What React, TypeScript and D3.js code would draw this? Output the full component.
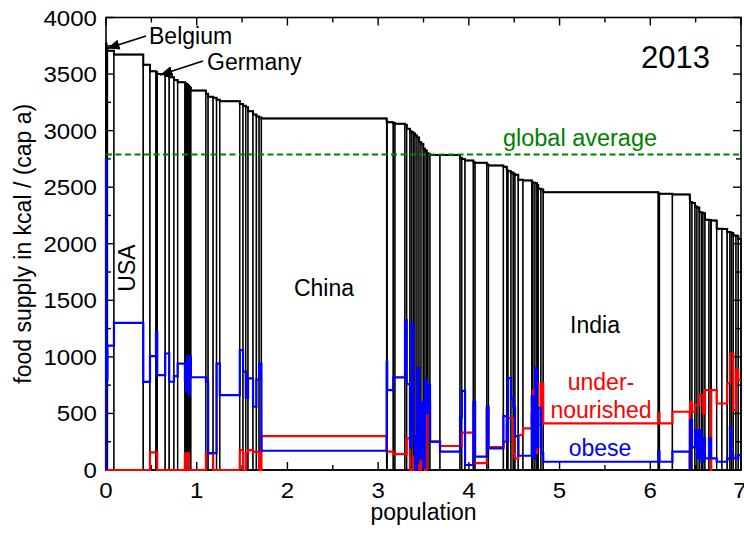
import React from 'react';
import * as d3 from 'd3';

// population per country (billions), sorted by food supply
const pop = [
  0.005, 0.011, 0.072, 0.323, 0.074, 0.066, 0.014, 0.088, 0.044, 0.052, 0.041, 0.080, 0.012, 0.013, 0.010, 0.009,
  0.011, 0.011, 0.165, 0.025, 0.055, 0.038, 0.036, 0.220, 0.036, 0.030, 0.025, 0.055, 0.037, 0.030, 0.025,
  1.381,
  0.006, 0.067, 0.019, 0.110, 0.019, 0.036, 0.017, 0.020, 0.019, 0.022, 0.022, 0.022, 0.025, 0.019, 0.019, 0.014,
  0.022, 0.110, 0.221, 0.019, 0.036, 0.092, 0.019, 0.129, 0.018, 0.165, 0.037, 0.014, 0.033, 0.025, 0.019, 0.036,
  0.052, 0.096, 0.014, 0.022, 0.022, 0.014, 0.030, 0.025,
  1.268,
  0.013, 0.143, 0.191, 0.003, 0.022, 0.033, 0.022, 0.025, 0.024, 0.017, 0.022, 0.044, 0.022, 0.003, 0.060, 0.058,
  0.058, 0.030, 0.017, 0.020, 0.030, 0.025, 0.030,
];
// food supply in kcal / (cap day)
const kcal = [
  3770, 3733, 3706, 3672, 3583, 3524, 3515, 3501, 3483, 3471, 3448, 3427, 3418, 3413, 3405, 3398,
  3385, 3378, 3354, 3325, 3300, 3290, 3272, 3260, 3236, 3220, 3207, 3171, 3142, 3125, 3115,
  3108,
  3080, 3074, 3068, 3060, 3052, 3016, 2995, 2986, 2975, 2957, 2940, 2900, 2883, 2840, 2824, 2800,
  2795, 2785, 2785, 2760, 2750, 2736, 2720, 2716, 2700, 2692, 2680, 2648, 2640, 2630, 2618, 2610,
  2566, 2560, 2545, 2540, 2535, 2520, 2486, 2480,
  2455,
  2445, 2442, 2436, 2400, 2368, 2360, 2330, 2320, 2280, 2275, 2270, 2213, 2210, 2208, 2205, 2133,
  2130, 2103, 2100, 2095, 2074, 2070, 2045,
];
const obese = [
  2750, 800, 1100, 1300, 779, 1006, 1220, 838, 1030, 780, 830, 940, 790, 700, 1010, 880,
  660, 1000, 820, 780, 150, 150, 940, 662, 1060, 870, 640, 810, 560, 800, 940,
  170,
  956, 706, 818, 818, 1324, 760, 200, 1297, 300, 0, 900, 100, 600, 20, 800, 503,
  750, 250, 162, 470, 700, 44, 600, 118, 560, 191, 476, 250, 812, 635, 559, 300,
  126, 126, 650, 100, 900, 200, 550, 150,
  73,
  162, 73, 162, 0, 441, 200, 353, 103, 353, 73, 280, 103, 280, 103, 103, 73,
  73, 100, 382, 132, 103, 103, 132,
];
const under = [
  0, 0, 0, 0, 0, 156, 156, 0, 0, 0, 0, 0, 147, 147, 0, 147,
  0, 0, 0, 147, 147, 0, 0, 0, 176, 0, 150, 176, 160, 160, 0,
  300,
  162, 162, 141, 141, 141, 280, 0, 0, 120, 0, 50, 0, 400, 200, 0, 594,
  600, 250, 212, 212, 330, 330, 60, 60, 547, 203, 250, 400, 459, 459, 140, 100,
  309, 368, 500, 706, 150, 765, 400, 765,
  412,
  500, 412, 515, 0, 603, 515, 574, 574, 662, 662, 500, 706, 706, 0, 706, 588,
  588, 765, 1030, 1030, 530, 883, 795,
];
const globalAverage = 2790;
const xTicks = [0, 1, 2, 3, 4, 5, 6, 7];
const xMinor = [0.5, 1.5, 2.5, 3.5, 4.5, 5.5, 6.5];
const yTicks = [0, 500, 1000, 1500, 2000, 2500, 3000, 3500, 4000];
const yMinor = [250, 750, 1250, 1750, 2250, 2750, 3250, 3750];

const FONT = "'Liberation Sans', Arial, Helvetica, sans-serif";

export default function App() {
  const W = 744, H = 533;
  const L = 106, R = 741, T = 17.5, B = 470;
  const x = d3.scaleLinear().domain([0, 7]).range([L, R]);
  const y = d3.scaleLinear().domain([0, 4000]).range([B, T]);
  const ends = d3.cumsum(pop);
  const starts = pop.map((_, i) => (i === 0 ? 0 : ends[i - 1]));
  const total = ends[ends.length - 1];

  const step = (vals: number[]) => {
    const pts: [number, number][] = [[0, 0]];
    vals.forEach((v, i) => pts.push([starts[i], v]));
    pts.push([total, vals[vals.length - 1]]);
    return d3
      .line<[number, number]>()
      .x((d) => x(d[0]))
      .y((d) => y(d[1]))
      .curve(d3.curveStepAfter)(pts) as string;
  };

  const MAJ = 8, MIN = 5;
  const digitW = 13.4; // stretched digit advance for tick labels

  return (
    <svg width={W} height={H} style={{ position: 'absolute', left: 0, top: 0, background: '#fff' }} fontFamily={FONT}>
      <rect x={0} y={0} width={W} height={H} fill="#fff" />
      {/* bars */}
      <g>
        {pop.map((p, i) => (
          <rect
            key={i}
            x={x(starts[i])}
            y={y(kcal[i])}
            width={x(ends[i]) - x(starts[i])}
            height={y(0) - y(kcal[i])}
            fill="#fff"
            stroke="#000"
            strokeWidth={1.4}
          />
        ))}
      </g>
      <path d={step(kcal)} fill="none" stroke="#000" strokeWidth={2} />
      {/* frame & ticks */}
      <rect x={L} y={T} width={R - L} height={B - T} fill="none" stroke="#000" strokeWidth={1.6} />
      <g stroke="#000" strokeWidth={1.4}>
        {xTicks.map((t) => (
          <g key={'xt' + t}>
            <line x1={x(t)} x2={x(t)} y1={B} y2={B - MAJ} />
            <line x1={x(t)} x2={x(t)} y1={T} y2={T + MAJ} />
          </g>
        ))}
        {xMinor.map((t) => (
          <g key={'xm' + t}>
            <line x1={x(t)} x2={x(t)} y1={B} y2={B - MIN} />
            <line x1={x(t)} x2={x(t)} y1={T} y2={T + MIN} />
          </g>
        ))}
        {yTicks.map((t) => (
          <g key={'yt' + t}>
            <line x1={L} x2={L + MAJ} y1={y(t)} y2={y(t)} />
            <line x1={R} x2={R - MAJ} y1={y(t)} y2={y(t)} />
          </g>
        ))}
        {yMinor.map((t) => (
          <g key={'ym' + t}>
            <line x1={L} x2={L + MIN} y1={y(t)} y2={y(t)} />
            <line x1={R} x2={R - MIN} y1={y(t)} y2={y(t)} />
          </g>
        ))}
      </g>
      {/* series */}
      <path d={step(under)} fill="none" stroke="#ff0000" strokeWidth={2.2} />
      <path d={step(obese)} fill="none" stroke="#0000ff" strokeWidth={2.2} />
      <line x1={L} x2={R} y1={y(globalAverage)} y2={y(globalAverage)} stroke="#008000" strokeWidth={2} strokeDasharray="6,3.5" />
      {/* tick labels */}
      <g fontSize={22} fill="#000">
        {xTicks.map((t) => (
          <text key={'xl' + t} x={t === 7 ? x(t) - 1 : x(t)} y={498} textAnchor="middle"
            textLength={String(t).length * digitW} lengthAdjust="spacingAndGlyphs">{t}</text>
        ))}
        {yTicks.map((t) => (
          <text key={'yl' + t} x={97} y={y(t) + 8} textAnchor="end"
            textLength={String(t).length * digitW} lengthAdjust="spacingAndGlyphs">{t}</text>
        ))}
      </g>
      <text x={(L + R) / 2} y={520} fontSize={23} textAnchor="middle">population</text>
      <text transform={`translate(31,${(T + B) / 2}) rotate(-90)`} fontSize={23} textAnchor="middle">food supply in kcal / (cap a)</text>
      {/* annotations */}
      <text x={641} y={68} fontSize={31}>2013</text>
      <text x={580} y={146} fontSize={23.5} fill="#008000" textAnchor="middle">global average</text>
      <text transform="translate(135,268) rotate(-90)" fontSize={23} textAnchor="middle">USA</text>
      <text x={324} y={296} fontSize={23} textAnchor="middle">China</text>
      <text x={595} y={333} fontSize={23} textAnchor="middle">India</text>
      <text x={601} y={390} fontSize={23} fill="#ff0000" textAnchor="middle">under-</text>
      <text x={601} y={418} fontSize={23} fill="#ff0000" textAnchor="middle">nourished</text>
      <text x={600} y={456} fontSize={23} fill="#0000ff" textAnchor="middle">obese</text>
      <defs>
        <marker id="arr" viewBox="0 0 10 10" refX={10} refY={5} markerWidth={7} markerHeight={7} orient="auto">
          <path d="M0,1 L10,5 L0,9 z" fill="#000" />
        </marker>
      </defs>
      <line x1={146} y1={36} x2={107} y2={48.5} stroke="#000" strokeWidth={1.8} markerEnd="url(#arr)" />
      <text x={149} y={44} fontSize={23}>Belgium</text>
      <line x1={203} y1={61} x2={160} y2={75} stroke="#000" strokeWidth={1.8} markerEnd="url(#arr)" />
      <text x={207} y={70} fontSize={23}>Germany</text>
    </svg>
  );
}
